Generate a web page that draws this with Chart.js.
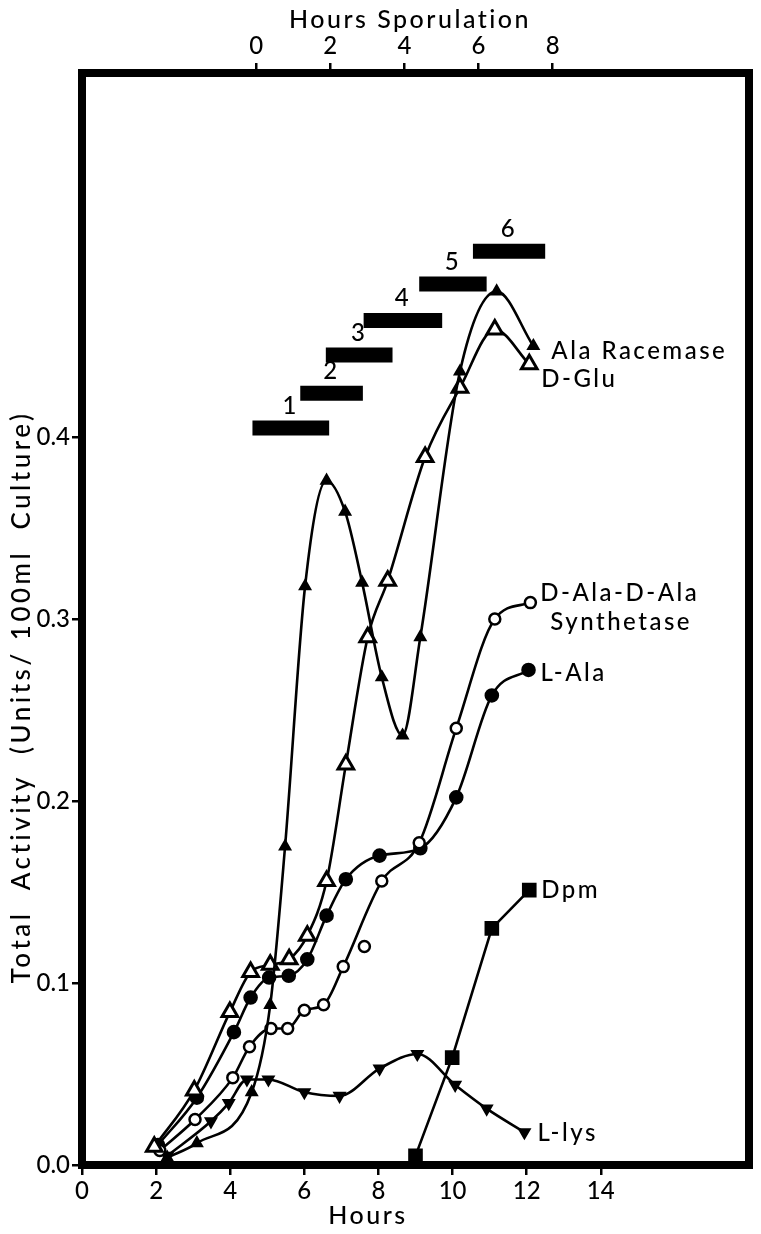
<!DOCTYPE html>
<html>
<head>
<meta charset="utf-8">
<script src="https://cdn.jsdelivr.net/npm/chart.js@4.4.0/dist/chart.umd.min.js"></script>
<style>
  html, body { margin: 0; padding: 0; background: #fff; }
  #grafico { display: block; }
</style>
</head>
<body>
<canvas id="grafico" width="761" height="1234"></canvas>
<script>
// Ejes
const horasTicks = [0, 2, 4, 6, 8, 10, 12, 14];
const esporTicks = [0, 2, 4, 6, 8];
const actividadTicks = [0, 0.1, 0.2, 0.3, 0.4];
const inicioEsporulacion = 4.7; // hora 0 de esporulación en el eje de horas

// Ala Racemase (triángulo lleno pequeño)
const racemasaX = [2.3, 3.1, 4.58, 5.08, 5.48, 6.02, 6.6, 7.1, 7.56, 8.09, 8.65, 9.13, 10.2, 11.19, 12.18];
const racemasaY = [0.004, 0.012, 0.040, 0.088, 0.175, 0.318, 0.376, 0.359, 0.320, 0.268, 0.236, 0.290, 0.436, 0.480, 0.450];

// D-Glu (triángulo abierto)
const dGluX = [1.95, 3.03, 3.99, 4.55, 5.08, 5.59, 6.08, 6.6, 7.12, 7.71, 8.25, 9.26, 10.2, 11.14, 12.07];
const dGluY = [0.010, 0.041, 0.084, 0.106, 0.110, 0.113, 0.126, 0.156, 0.220, 0.290, 0.321, 0.389, 0.427, 0.459, 0.440];

// D-Ala-D-Ala Synthetase (círculo abierto)
const sintetasaX = [2.1, 3.05, 4.07, 4.52, 5.1, 5.55, 6.0, 6.52, 7.05, 8.09, 9.1, 10.1, 11.14, 12.1];
const sintetasaY = [0.008, 0.025, 0.048, 0.065, 0.075, 0.075, 0.085, 0.088, 0.109, 0.156, 0.177, 0.240, 0.300, 0.309];
const sintetasaSueltoX = [7.62];
const sintetasaSueltoY = [0.120];

// L-Ala (círculo lleno)
const lAlaX = [2.05, 3.1, 4.1, 4.55, 5.05, 5.58, 6.08, 6.6, 7.12, 8.03, 9.13, 10.1, 11.06, 12.05];
const lAlaY = [0.011, 0.037, 0.073, 0.092, 0.103, 0.104, 0.113, 0.137, 0.157, 0.170, 0.174, 0.202, 0.258, 0.272];

// Dpm (cuadrado lleno)
const dpmX = [9.0, 9.99, 11.06, 12.07];
const dpmY = [0.005, 0.059, 0.130, 0.151];

// L-lys (triángulo invertido)
const lLysX = [2.3, 3.48, 3.96, 4.45, 5.03, 6.0, 6.95, 8.03, 9.05, 10.07, 10.92, 11.94];
const lLysY = [0.005, 0.024, 0.034, 0.047, 0.047, 0.040, 0.038, 0.053, 0.061, 0.044, 0.031, 0.018];

// Barras de etapas 1-6
const etapas = ["1", "2", "3", "4", "5", "6"];
const etapaInicio = [4.6, 5.89, 6.58, 7.6, 9.1, 10.55];
const etapaFin = [6.67, 7.58, 8.38, 9.72, 10.92, 12.5];
const etapaNivel = [0.405, 0.424, 0.445, 0.464, 0.484, 0.502];

const FUENTE = "Lato, 'DejaVu Sans', sans-serif";

function puntos(xs, ys) {
    return xs.map((x, i) => ({ x: x, y: ys[i] }));
}

function serie(nombre, xs, ys, estilo) {
    return Object.assign({
        label: nombre,
        data: puntos(xs, ys),
        borderColor: "#000",
        borderWidth: 2.6,
        pointBorderColor: "#000",
        pointBackgroundColor: "#000",
        cubicInterpolationMode: "monotone",
        order: 1
    }, estilo);
}

let datasets = [];

// barras de etapas como líneas gruesas
etapas.forEach((e, i) => {
    datasets.push({
        label: "etapa " + e,
        data: puntos([etapaInicio[i], etapaFin[i]], [etapaNivel[i], etapaNivel[i]]),
        borderColor: "#000",
        borderWidth: 15,
        borderCapStyle: "butt",
        pointRadius: 0,
        order: 2
    });
});

datasets.push(serie("Ala Racemase", racemasaX, racemasaY, { pointStyle: "triangle", pointRadius: 5.5 }));
datasets.push(serie("D-Glu", dGluX, dGluY, { pointStyle: "triangle", pointRadius: 9, pointBackgroundColor: "#fff", pointBorderWidth: 3 }));
datasets.push(serie("D-Ala-D-Ala Synthetase", sintetasaX, sintetasaY, { pointStyle: "circle", pointRadius: 5.5, pointBackgroundColor: "#fff", pointBorderWidth: 2.5 }));
datasets.push(serie("D-Ala-D-Ala (suelto)", sintetasaSueltoX, sintetasaSueltoY, { pointStyle: "circle", pointRadius: 5.5, pointBackgroundColor: "#fff", pointBorderWidth: 2.5, showLine: false }));
datasets.push(serie("L-Ala", lAlaX, lAlaY, { pointStyle: "circle", pointRadius: 6 }));
datasets.push(serie("Dpm", dpmX, dpmY, { pointStyle: "rect", pointRadius: 8.5, cubicInterpolationMode: "default", tension: 0 }));
datasets.push(serie("L-lys", lLysX, lLysY, { pointStyle: "triangle", pointRotation: 180, pointRadius: 5.5 }));

// etiquetas de series: desplazamiento desde el último punto
const etiquetas = [
    { texto: "Ala Racemase", serie: "Ala Racemase", dx: 18, dy: 5 },
    { texto: "D-Glu", serie: "D-Glu", dx: 12, dy: 15 },
    { texto: "D-Ala-D-Ala", serie: "D-Ala-D-Ala Synthetase", dx: 10, dy: -9 },
    { texto: "Synthetase", serie: "D-Ala-D-Ala Synthetase", dx: 20, dy: 20 },
    { texto: "L-Ala", serie: "L-Ala", dx: 12, dy: 3 },
    { texto: "Dpm", serie: "Dpm", dx: 12, dy: 0 },
    { texto: "L-lys", serie: "L-lys", dx: 13, dy: 1 }
];

const textosPlugin = {
    id: "textos",
    afterDatasetsDraw(chart) {
        const ctx = chart.ctx;
        const area = chart.chartArea;
        const sx = chart.scales.x;
        const sy = chart.scales.y;
        ctx.save();

        // marco grueso
        ctx.strokeStyle = "#000";
        ctx.lineWidth = 8;
        ctx.strokeRect(area.left, area.top, area.right - area.left, area.bottom - area.top);

        ctx.fillStyle = "#000";
        ctx.letterSpacing = "2.5px";
        ctx.font = "500 24px " + FUENTE;
        ctx.textBaseline = "middle";
        ctx.textAlign = "left";

        // etiquetas de series
        etiquetas.forEach(et => {
            const ds = chart.data.datasets.find(d => d.label === et.serie);
            const ultimo = ds.data[ds.data.length - 1];
            ctx.fillText(et.texto, sx.getPixelForValue(ultimo.x) + et.dx, sy.getPixelForValue(ultimo.y) + et.dy);
        });

        // números de etapas
        ctx.textAlign = "center";
        ctx.textBaseline = "bottom";
        etapas.forEach((e, i) => {
            const cx = sx.getPixelForValue((etapaInicio[i] + etapaFin[i]) / 2);
            const cy = sy.getPixelForValue(etapaNivel[i]) - 10;
            ctx.fillText(e, cx, cy);
        });

        // títulos de ejes
        ctx.textBaseline = "middle";
        ctx.font = "500 25px " + FUENTE;
        ctx.fillText("Hours", 368, 1216);
        ctx.fillText("Hours Sporulation", 410, 20);

        ctx.letterSpacing = "3.5px";
        ctx.font = "500 26px " + FUENTE;
        ctx.translate(22, 697);
        ctx.rotate(-Math.PI / 2);
        ctx.fillText("Total  Activity  (Units/ 100ml  Culture)", 0, 0);
        ctx.restore();
    }
};

function fijarTicks(valores) {
    return function (scale) {
        scale.ticks = valores.map(v => ({ value: v }));
    };
}

const ticksComunes = { color: "#000", font: { size: 24, family: FUENTE, weight: "500" }, autoSkip: false, maxRotation: 0 };
const gridComun = { drawOnChartArea: false, color: "#000", lineWidth: 2.5, tickLength: 10 };

new Chart(document.getElementById("grafico").getContext("2d"), {
    type: "line",
    data: { datasets: datasets },
    options: {
        responsive: false,
        animation: false,
        layout: { padding: 0 },
        plugins: { legend: { display: false }, tooltip: { enabled: false } },
        scales: {
            x: {
                type: "linear", position: "bottom", min: 0, max: 18,
                afterBuildTicks: fijarTicks(horasTicks),
                afterFit: s => { s.height = 69; },
                ticks: Object.assign({ padding: 2 }, ticksComunes),
                grid: gridComun,
                border: { display: false }
            },
            x2: {
                type: "linear", position: "top",
                min: -inicioEsporulacion, max: 18 - inicioEsporulacion,
                afterBuildTicks: fijarTicks(esporTicks),
                afterFit: s => { s.height = 73; },
                ticks: Object.assign({ padding: 2 }, ticksComunes),
                grid: gridComun,
                border: { display: false }
            },
            y: {
                type: "linear", position: "left", min: 0, max: 0.6,
                afterBuildTicks: fijarTicks(actividadTicks),
                afterFit: s => { s.width = 82; },
                ticks: Object.assign({ padding: 2, callback: v => v.toFixed(1) }, ticksComunes),
                grid: gridComun,
                border: { display: false }
            },
            y2: {
                type: "linear", position: "right", min: 0, max: 0.6,
                afterFit: s => { s.width = 7; },
                ticks: { display: false },
                grid: { display: false },
                border: { display: false }
            }
        }
    },
    plugins: [textosPlugin]
});
</script>
</body>
</html>
